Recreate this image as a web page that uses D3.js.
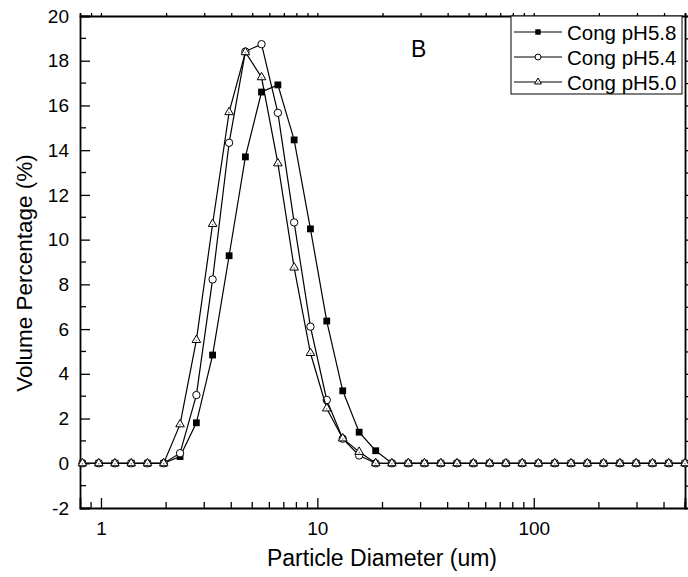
<!DOCTYPE html>
<html>
<head>
<meta charset="utf-8">
<script src="https://cdn.jsdelivr.net/npm/d3@7"></script>
<style>
  body { margin: 0; background: #fff; }
  svg text { font-family: "Liberation Sans", Arial, sans-serif; fill: #000; }
</style>
</head>
<body>
<svg id="chart" width="688" height="577"></svg>
<script>
// particle diameters (um)
const sizes = [0.821, 0.977, 1.16, 1.38, 1.64, 1.95, 2.32, 2.76, 3.28, 3.91,
  4.65, 5.52, 6.57, 7.81, 9.29, 11.05, 13.1, 15.6, 18.6, 22.1,
  26.3, 31.25, 37.2, 44.2, 52.6, 62.5, 74.3, 88.4, 105.1, 125,
  148.7, 176.8, 210.2, 250, 297.3, 353.6, 420.4, 500];

const ph58 = [0, 0, 0, 0, 0, 0, 0.3, 1.81, 4.84, 9.28,
  13.7, 16.6, 16.92, 14.46, 10.48, 6.36, 3.24, 1.39, 0.56, 0,
  0, 0, 0, 0, 0, 0, 0, 0, 0, 0,
  0, 0, 0, 0, 0, 0, 0, 0];
const ph54 = [0, 0, 0, 0, 0, 0, 0.45, 3.05, 8.22, 14.33,
  18.41, 18.74, 15.67, 10.77, 6.11, 2.83, 1.1, 0.35, 0, 0,
  0, 0, 0, 0, 0, 0, 0, 0, 0, 0,
  0, 0, 0, 0, 0, 0, 0, 0];
const ph50 = [0, 0, 0, 0, 0, 0, 1.74, 5.51, 10.7, 15.7,
  18.38, 17.26, 13.41, 8.75, 4.93, 2.45, 1.11, 0.51, 0, 0,
  0, 0, 0, 0, 0, 0, 0, 0, 0, 0,
  0, 0, 0, 0, 0, 0, 0, 0];

const seriesNames = ["Cong pH5.8", "Cong pH5.4", "Cong pH5.0"];
const seriesMarks = ["square", "circle", "triangle"];
const xMajor = [1, 10, 100];
const yTicks = [-2, 0, 2, 4, 6, 8, 10, 12, 14, 16, 18, 20];

const padL = 80, padR = 685, padT = 16, padB = 508;
const svg = d3.select("#chart");

const x = d3.scaleLog().domain([0.8, 500]).range([padL, padR]);
const y = d3.scaleLinear().domain([-2, 20]).range([padB, padT]);

// minor ticks for log axis
const xMinor = [];
[0.1, 1, 10, 100].forEach(dec => {
  for (let k = 2; k <= 9; k++) {
    const v = +(dec * k).toPrecision(3);
    if (v > 0.8 && v <= 500 && xMajor.indexOf(v) < 0) xMinor.push(v);
  }
});
const yMinor = d3.range(-1, 20, 2);

// bottom axis (ticks inward)
const gx = svg.append("g").attr("transform", `translate(0,${padB})`)
  .call(d3.axisBottom(x).tickValues(xMajor).tickSize(-10).tickPadding(14)
    .tickFormat(d => String(d)));
gx.append("g").selectAll("line").data(xMinor).join("line")
  .attr("x1", d => x(d)).attr("x2", d => x(d)).attr("y1", 0).attr("y2", -6)
  .attr("stroke", "#000").attr("stroke-width", 1.3);

// top axis
svg.append("g").attr("transform", `translate(0,${padT})`)
  .call(d3.axisTop(x).tickValues(xMajor.concat(xMinor)).tickSize(3).tickFormat(""));

// left axis (ticks inward)
const gy = svg.append("g").attr("transform", `translate(${padL},0)`)
  .call(d3.axisLeft(y).tickValues(yTicks).tickSize(-10).tickPadding(11)
    .tickFormat(d => String(d)));
gy.append("g").selectAll("line").data(yMinor).join("line")
  .attr("y1", d => y(d)).attr("y2", d => y(d)).attr("x1", 0).attr("x2", 6)
  .attr("stroke", "#000").attr("stroke-width", 1.3);

// right axis
svg.append("g").attr("transform", `translate(${padR},0)`)
  .call(d3.axisRight(y).tickValues(yTicks.concat(yMinor)).tickSize(3).tickFormat(""));

svg.selectAll(".domain").attr("stroke", "#000").attr("stroke-width", 1.8);
svg.selectAll(".tick line").attr("stroke", "#000").attr("stroke-width", 1.3);
svg.selectAll(".tick text").style("font-size", "19px")
  .style("font-family", "'Liberation Sans', Arial, sans-serif");

// axis titles
svg.append("text").attr("x", 382).attr("y", 566).attr("text-anchor", "middle")
  .style("font-size", "23px").text("Particle Diameter (um)");
svg.append("text").attr("transform", "translate(32,273) rotate(-90)")
  .attr("text-anchor", "middle").style("font-size", "22.5px")
  .text("Volume Percentage (%)");

svg.append("text").attr("x", 411).attr("y", 57).style("font-size", "23px").text("B");

// series
const series = [ph58, ph54, ph50];
const line = d3.line().x((d, i) => x(sizes[i])).y(d => y(d));

function marker(g, kind, cx, cy, scale) {
  if (kind === "square") {
    g.append("rect").attr("x", cx - 3.4 * scale).attr("y", cy - 3.4 * scale)
      .attr("width", 6.8 * scale).attr("height", 6.8 * scale).attr("fill", "#000");
  } else if (kind === "circle") {
    g.append("circle").attr("cx", cx).attr("cy", cy).attr("r", 3.7 * scale)
      .attr("fill", "#fff").attr("stroke", "#000").attr("stroke-width", 1);
  } else {
    g.append("path").attr("transform", `translate(${cx},${cy})`)
      .attr("d", d3.symbol().type(d3.symbolTriangle).size(32 * scale * scale)())
      .attr("fill", "#fff").attr("stroke", "#000").attr("stroke-width", 1);
    g.append("circle").attr("cx", cx).attr("cy", cy + 0.5).attr("r", 0.8 * scale)
      .attr("fill", "#777");
  }
}

series.forEach((vals, si) => {
  const g = svg.append("g");
  g.append("path").datum(vals).attr("d", line)
    .attr("fill", "none").attr("stroke", "#000").attr("stroke-width", 1.2);
  vals.forEach((v, i) => marker(g, seriesMarks[si], x(sizes[i]), y(v), 1));
});

// legend
const lg = svg.append("g");
lg.append("rect").attr("x", 511).attr("y", 16).attr("width", 171).attr("height", 78)
  .attr("fill", "#fff").attr("stroke", "#000").attr("stroke-width", 1);
seriesNames.forEach((name, i) => {
  const ly = 32 + i * 25;
  lg.append("line").attr("x1", 514).attr("x2", 562).attr("y1", ly).attr("y2", ly)
    .attr("stroke", "#000").attr("stroke-width", 1.2);
  marker(lg, seriesMarks[i], 538, ly, 0.8);
  lg.append("text").attr("x", 567).attr("y", ly + 7.5).style("font-size", "20.5px").text(name);
});
</script>
</body>
</html>
